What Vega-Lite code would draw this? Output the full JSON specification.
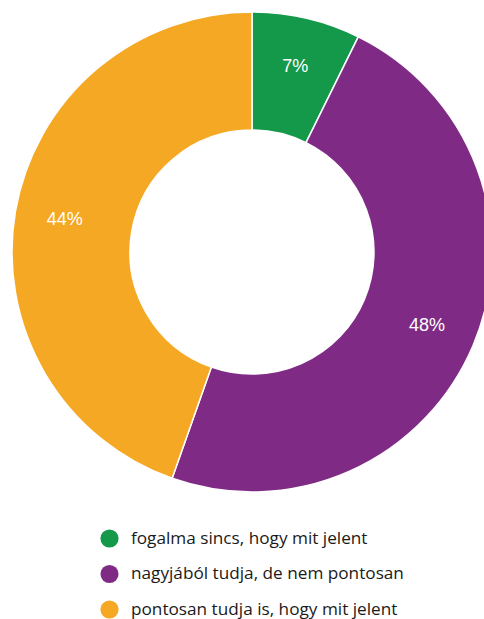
{
  "$schema": "https://vega.github.io/schema/vega-lite/v6.json",
  "width": 504,
  "height": 504,
  "padding": 0,
  "autosize": {"type": "pad"},
  "background": "white",
  "data": {
    "values": [
      {"kat": "fogalma sincs, hogy mit jelent", "ertek": 7.3, "cimke": "7%", "sor": 1},
      {"kat": "nagyjából tudja, de nem pontosan", "ertek": 48.1, "cimke": "48%", "sor": 2},
      {"kat": "pontosan tudja is, hogy mit jelent", "ertek": 44.6, "cimke": "44%", "sor": 3}
    ]
  },
  "encoding": {
    "theta": {"field": "ertek", "type": "quantitative", "stack": true},
    "order": {"field": "sor", "type": "quantitative"}
  },
  "layer": [
    {
      "mark": {"type": "arc", "outerRadius": 240, "innerRadius": 122, "stroke": "white", "strokeWidth": 1.5},
      "encoding": {
        "color": {
          "field": "kat",
          "type": "nominal",
          "sort": ["fogalma sincs, hogy mit jelent", "nagyjából tudja, de nem pontosan", "pontosan tudja is, hogy mit jelent"],
          "scale": {
            "domain": ["fogalma sincs, hogy mit jelent", "nagyjából tudja, de nem pontosan", "pontosan tudja is, hogy mit jelent"],
            "range": ["#14994b", "#7f2b86", "#f5a823"]
          },
          "legend": {
            "orient": "none",
            "legendX": 100,
            "legendY": 529,
            "direction": "vertical",
            "title": null,
            "padding": 0,
            "symbolType": "circle",
            "symbolSize": 330,
            "symbolStrokeWidth": 0,
            "symbolOpacity": 1,
            "labelFont": "Open Sans",
            "labelFontSize": 17.2,
            "labelColor": "#1a1a1a",
            "labelOffset": 12,
            "labelLimit": 400,
            "rowPadding": 16.5
          }
        }
      }
    },
    {
      "mark": {"type": "text", "radius": 190, "fill": "white", "font": "Liberation Sans", "fontSize": 18},
      "encoding": {
        "text": {"field": "cimke", "type": "nominal"}
      }
    }
  ]
}
